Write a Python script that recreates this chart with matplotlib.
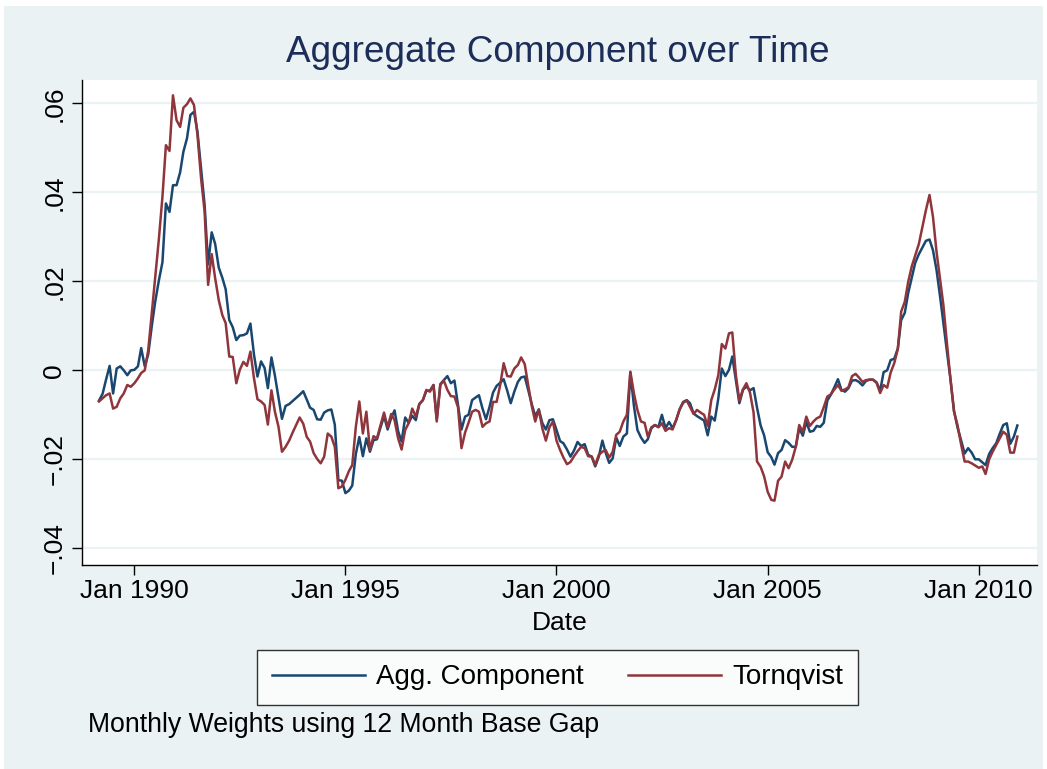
import matplotlib
matplotlib.use("Agg")
import matplotlib.pyplot as plt
from matplotlib.patches import Rectangle
import pandas as pd

plt.rcParams['font.family'] = ['Liberation Sans', 'DejaVu Sans']

# ---------------- data (monthly, Mar 1989 - Dec 2010) ----------------
start_month = "1989-03-01"

agg_component = [
    -.0068, -.0053, -.0021, .0010, -.0052, .0004, .0009, .0000, -.0011, .0000,
    .0001, .0009, .0050, .0009, .0036, .0100, .0155, .0202, .0243, .0375, .0356, .0416,
    .0416, .0445, .0491, .0521, .0574, .0581, .0536, .0454, .0371, .0238, .0310, .0284,
    .0231, .0208, .0182, .0113, .0097, .0068, .0078, .0079, .0083, .0105, .0035, -.0014,
    .0020, .0005, -.0040, .0029, -.0012, -.0062, -.0109, -.0080, -.0076, -.0069, -.0062, -.0055,
    -.0047, -.0066, -.0084, -.0089, -.0110, -.0111, -.0095, -.0090, -.0088, -.0122, -.0247, -.0248,
    -.0276, -.0270, -.0259, -.0188, -.0150, -.0193, -.0153, -.0183, -.0157, -.0155, -.0128, -.0103,
    -.0133, -.0107, -.0090, -.0137, -.0160, -.0106, -.0118, -.0102, -.0112, -.0076, -.0067, -.0046,
    -.0046, -.0033, -.0110, -.0031, -.0022, -.0013, -.0029, -.0023, -.0078, -.0133, -.0104, -.0100,
    -.0067, -.0061, -.0056, -.0086, -.0110, -.0082, -.0050, -.0035, -.0028, -.0020, -.0046, -.0074,
    -.0048, -.0026, -.0016, -.0014, -.0044, -.0076, -.0103, -.0088, -.0119, -.0133, -.0112, -.0110,
    -.0134, -.0159, -.0164, -.0178, -.0194, -.0180, -.0161, -.0170, -.0166, -.0190, -.0194, -.0216,
    -.0194, -.0158, -.0185, -.0208, -.0198, -.0151, -.0170, -.0149, -.0142, -.0005, -.0080, -.0134,
    -.0151, -.0163, -.0155, -.0130, -.0123, -.0127, -.0100, -.0130, -.0116, -.0130, -.0112, -.0088,
    -.0071, -.0067, -.0074, -.0097, -.0103, -.0108, -.0113, -.0146, -.0104, -.0113, -.0063, .0004,
    -.0013, .0001, .0031, -.0022, -.0074, -.0044, -.0036, -.0045, -.0040, -.0084, -.0124, -.0146,
    -.0184, -.0195, -.0212, -.0186, -.0179, -.0157, -.0163, -.0172, -.0172, -.0130, -.0147, -.0116,
    -.0138, -.0136, -.0125, -.0127, -.0118, -.0068, -.0055, -.0038, -.0020, -.0044, -.0048, -.0040,
    -.0023, -.0022, -.0026, -.0034, -.0024, -.0021, -.0021, -.0027, -.0046, -.0004, .0000, .0023,
    .0026, .0049, .0113, .0129, .0174, .0209, .0242, .0261, .0276, .0291, .0294, .0270,
    .0225, .0165, .0106, .0042, -.0019, -.0091, -.0128, -.0157, -.0187, -.0175, -.0185, -.0200,
    -.0200, -.0207, -.0213, -.0188, -.0175, -.0164, -.0143, -.0123, -.0119, -.0165, -.0149, -.0124,
]

tornqvist = [
    -.0070, -.0063, -.0056, -.0052, -.0086, -.0082, -.0063, -.0052, -.0033, -.0037,
    -.0029, -.0018, -.0006, .0000, .0045, .0130, .0210, .0295, .0390, .0506, .0493, .0618,
    .0562, .0547, .0590, .0598, .0611, .0596, .0529, .0432, .0356, .0192, .0261, .0207,
    .0158, .0124, .0106, .0031, .0030, -.0029, .0001, .0019, .0010, .0042, -.0018, -.0065,
    -.0070, -.0078, -.0122, -.0045, -.0093, -.0127, -.0183, -.0172, -.0158, -.0140, -.0123, -.0106,
    -.0120, -.0150, -.0160, -.0186, -.0199, -.0209, -.0194, -.0142, -.0149, -.0172, -.0265, -.0261,
    -.0246, -.0226, -.0213, -.0127, -.0070, -.0142, -.0093, -.0179, -.0148, -.0153, -.0123, -.0095,
    -.0128, -.0098, -.0112, -.0153, -.0178, -.0134, -.0119, -.0086, -.0104, -.0076, -.0067, -.0044,
    -.0048, -.0033, -.0115, -.0033, -.0023, -.0044, -.0058, -.0059, -.0083, -.0175, -.0140, -.0118,
    -.0093, -.0089, -.0093, -.0127, -.0119, -.0115, -.0071, -.0071, -.0033, .0016, -.0013, -.0014,
    .0004, .0012, .0029, .0014, -.0033, -.0080, -.0115, -.0088, -.0131, -.0158, -.0128, -.0115,
    -.0158, -.0179, -.0196, -.0211, -.0206, -.0193, -.0182, -.0172, -.0175, -.0193, -.0194, -.0213,
    -.0190, -.0183, -.0179, -.0196, -.0183, -.0145, -.0138, -.0115, -.0100, -.0003, -.0052, -.0089,
    -.0115, -.0118, -.0149, -.0128, -.0123, -.0128, -.0119, -.0136, -.0130, -.0133, -.0112, -.0088,
    -.0073, -.0068, -.0082, -.0098, -.0089, -.0095, -.0100, -.0125, -.0067, -.0043, -.0011, .0059,
    .0049, .0083, .0085, -.0011, -.0068, -.0043, -.0029, -.0050, -.0095, -.0205, -.0217, -.0238,
    -.0273, -.0291, -.0293, -.0248, -.0239, -.0205, -.0220, -.0201, -.0172, -.0123, -.0138, -.0104,
    -.0125, -.0115, -.0108, -.0104, -.0083, -.0059, -.0054, -.0043, -.0033, -.0046, -.0043, -.0038,
    -.0013, -.0008, -.0016, -.0026, -.0022, -.0021, -.0021, -.0028, -.0051, -.0033, -.0039, -.0005,
    .0016, .0048, .0132, .0154, .0199, .0234, .0259, .0284, .0323, .0360, .0394, .0345,
    .0266, .0203, .0147, .0060, -.0019, -.0093, -.0123, -.0166, -.0205, -.0205, -.0209, -.0214,
    -.0219, -.0216, -.0233, -.0200, -.0183, -.0168, -.0153, -.0138, -.0145, -.0185, -.0185, -.0149,
]

x_tick_dates = ["1990-01-01", "1995-01-01", "2000-01-01", "2005-01-01", "2010-01-01"]
x_tick_labels = ["Jan 1990", "Jan 1995", "Jan 2000", "Jan 2005", "Jan 2010"]
y_ticks = [-0.04, -0.02, 0.0, 0.02, 0.04, 0.06]
y_tick_labels = ["\u2212.04", "\u2212.02", "0", ".02", ".04", ".06"]

series_names = ["Agg. Component", "Tornqvist"]
title = "Aggregate Component over Time"
note = "Monthly Weights using 12 Month Base Gap"

# ---------------- styling ----------------
W, H = 1047, 769
bg = "#eaf2f3"
c_agg = "#1a476f"
c_torn = "#90353b"
title_color = "#1c2d59"
fs = 19

dates = pd.date_range(start_month, periods=len(agg_component), freq="MS")

fig = plt.figure(figsize=(W / 100, H / 100), dpi=100, facecolor="white")
fig.patches.append(Rectangle((4 / W, 0), (1043 - 4) / W, 1 - 6 / H,
                             transform=fig.transFigure, facecolor=bg,
                             edgecolor="none", zorder=-10))

ax = fig.add_axes([82 / W, 1 - 565 / H, (1037 - 82) / W, (565 - 80) / H])
ax.set_facecolor("white")

ax.plot(dates, agg_component, color=c_agg, lw=1.8, label=series_names[0])
ax.plot(dates, tornqvist, color=c_torn, lw=1.8, label=series_names[1])

ref = pd.Timestamp("1990-01-01")
ax.set_xlim(ref - pd.Timedelta(days=453), ref + pd.Timedelta(days=7809))
ax.set_ylim(-0.04375, 0.06524)

ax.set_xticks(pd.to_datetime(x_tick_dates))
ax.set_xticklabels(x_tick_labels)
ax.set_yticks(y_ticks)
ax.set_yticklabels(y_tick_labels, rotation=90, va="center")

ax.tick_params(axis="x", length=7.2, width=1.0, pad=3, labelsize=fs)
ax.tick_params(axis="y", length=7.2, width=1.0, pad=4, labelsize=fs)

ax.grid(axis="y", color=bg, lw=1.6)
ax.grid(axis="x", visible=False)
ax.set_axisbelow(True)
for s in ["top", "right"]:
    ax.spines[s].set_visible(False)
for s in ["left", "bottom"]:
    ax.spines[s].set_color("black")
    ax.spines[s].set_linewidth(1.0)

ax.set_xlabel("Date", fontsize=fs, labelpad=6)

leg = fig.legend(loc="center", bbox_to_anchor=(557.5 / W, 1 - 677.5 / H), ncol=2,
                 frameon=True, fancybox=False, edgecolor="black", facecolor="white",
                 fontsize=20, handlelength=3.35, handletextpad=0.4,
                 columnspacing=1.6, borderpad=0.52)
leg.get_frame().set_linewidth(1.0)

fig.text(557.5 / W, 1 - 52 / H, title, ha="center", va="center",
         fontsize=26.6, color=title_color)
fig.text(88 / W, 1 - 725 / H, note, ha="left", va="center", fontsize=19.2)

fig.savefig("out.png", dpi=100, facecolor=fig.get_facecolor())
